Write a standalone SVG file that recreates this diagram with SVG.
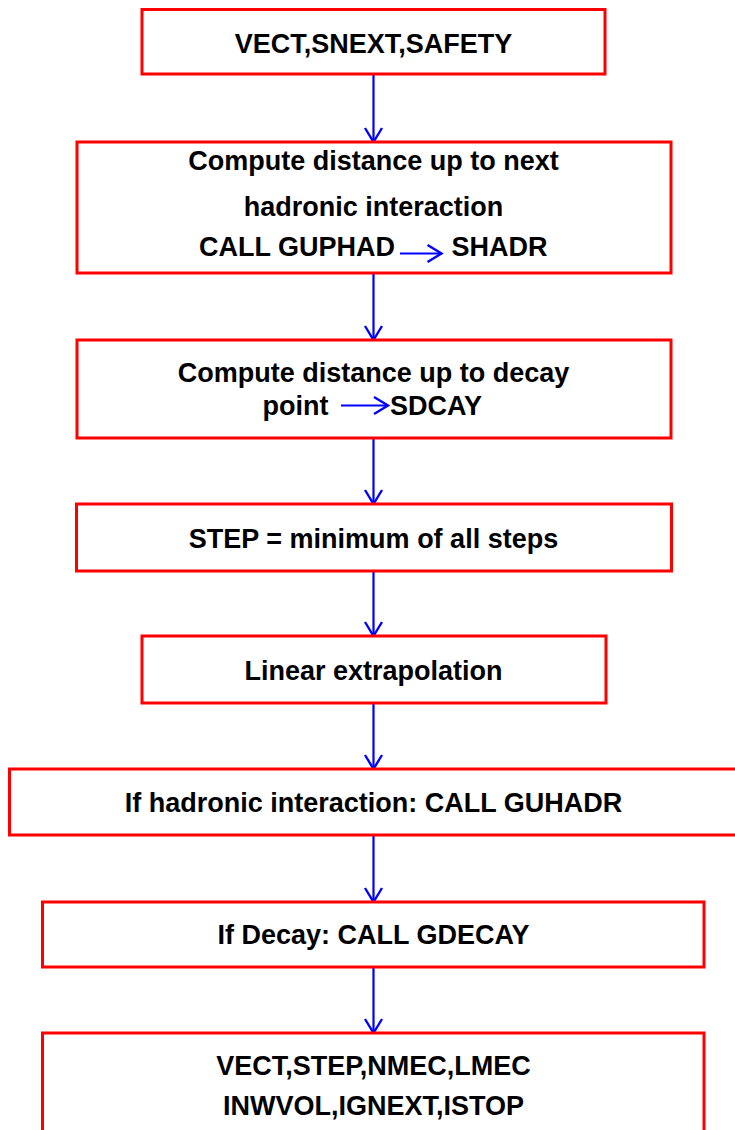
<svg xmlns="http://www.w3.org/2000/svg" width="735" height="1130" viewBox="0 0 735 1130">
<style>
.box{fill:#ffffff;stroke:#ff0000;stroke-width:3}
.t{font-family:"Liberation Sans",Arial,sans-serif;font-weight:bold;font-size:27px;fill:#000000}
.c{text-anchor:middle}
.arr{stroke:#0000ff;stroke-width:2.2;fill:none;marker-end:url(#head)}
</style>
<defs>
<marker id="head" markerUnits="userSpaceOnUse" markerWidth="30" markerHeight="30" refX="0" refY="0" orient="auto" overflow="visible">
<path d="M-14,-8.5 L0,0 L-14,8.5" fill="none" stroke="#0000ff" stroke-width="2.4"/>
</marker>
</defs>
<rect width="735" height="1130" fill="#ffffff"/>
<g id="connectors">
<line class="arr" x1="373.5" y1="74" x2="373.5" y2="142"/>
<line class="arr" x1="373.5" y1="273" x2="373.5" y2="340"/>
<line class="arr" x1="373.5" y1="438" x2="373.5" y2="504"/>
<line class="arr" x1="373.5" y1="571" x2="373.5" y2="636"/>
<line class="arr" x1="373.5" y1="703" x2="373.5" y2="769"/>
<line class="arr" x1="373.5" y1="835" x2="373.5" y2="902"/>
<line class="arr" x1="373.5" y1="967" x2="373.5" y2="1033"/>
</g>
<g id="n1">
<rect class="box" x="142" y="9.5" width="463" height="64.5"/>
<text class="t c" x="373.5" y="53">VECT,SNEXT,SAFETY</text>
</g>
<g id="n2">
<rect class="box" x="77" y="142" width="594" height="131"/>
<text class="t c" x="373.5" y="170">Compute distance up to next</text>
<text class="t c" x="373.5" y="216">hadronic interaction</text>
<text class="t" x="199" y="256">CALL GUPHAD</text>
<line class="arr" x1="400" y1="253.5" x2="441.5" y2="253.5"/>
<text class="t" x="451.5" y="256">SHADR</text>
</g>
<g id="n3">
<rect class="box" x="77" y="340" width="594" height="98"/>
<text class="t c" x="373.5" y="381.5">Compute distance up to decay</text>
<text class="t" x="262.5" y="415">point</text>
<line class="arr" x1="341" y1="405.5" x2="388" y2="405.5"/>
<text class="t" x="390" y="415">SDCAY</text>
</g>
<g id="n4">
<rect class="box" x="76.5" y="504" width="595" height="67"/>
<text class="t c" x="373.5" y="547.5">STEP = minimum of all steps</text>
</g>
<g id="n5">
<rect class="box" x="142" y="636" width="464" height="67"/>
<text class="t c" x="373.5" y="679.5">Linear extrapolation</text>
</g>
<g id="n6">
<rect class="box" x="9.5" y="769" width="740" height="66"/>
<text class="t c" x="373.5" y="811.5">If hadronic interaction: CALL GUHADR</text>
</g>
<g id="n7">
<rect class="box" x="42.5" y="902" width="661.5" height="65"/>
<text class="t c" x="373.5" y="943.5">If Decay: CALL GDECAY</text>
</g>
<g id="n8">
<rect class="box" x="42.5" y="1033" width="661.5" height="120"/>
<text class="t c" x="373.5" y="1075">VECT,STEP,NMEC,LMEC</text>
<text class="t c" x="373.5" y="1115">INWVOL,IGNEXT,ISTOP</text>
</g>
</svg>
